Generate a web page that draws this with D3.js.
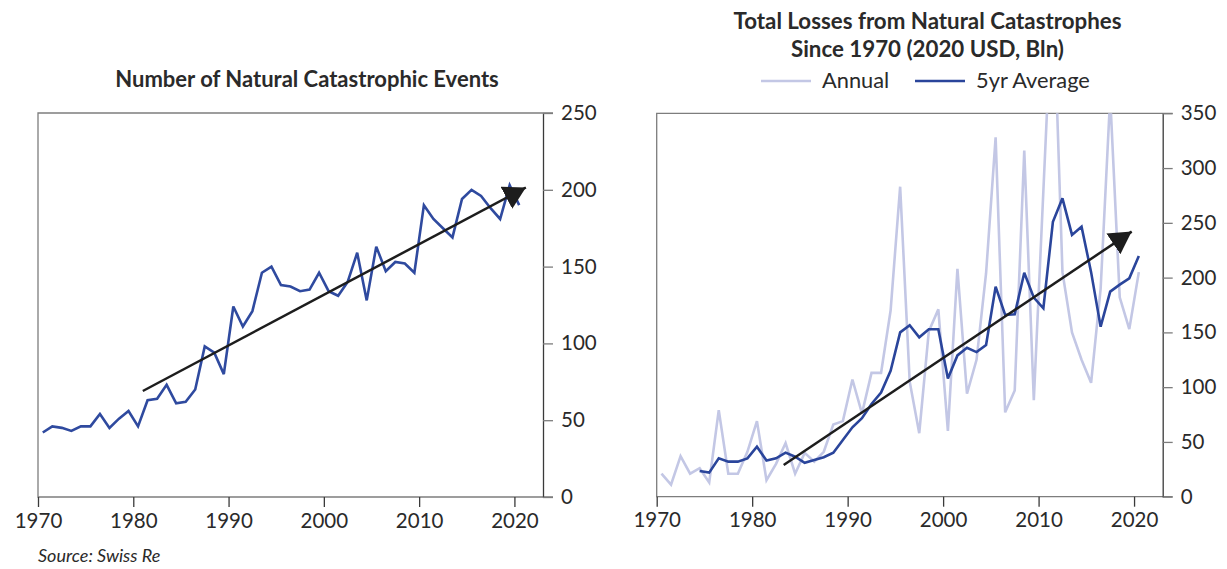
<!DOCTYPE html>
<html>
<head>
<meta charset="utf-8">
<script src="https://cdn.jsdelivr.net/npm/d3@7"></script>
<style>
  body { margin: 0; background: #fff; }
  svg { display: block; }
  text { font-family: Lato, "Open Sans", sans-serif; fill: #2a2a2a; }
</style>
</head>
<body>
<svg id="chart" width="1227" height="569"></svg>
<script>
// Years shown on both panels
const years = [1970, 1971, 1972, 1973, 1974, 1975, 1976, 1977, 1978, 1979,
               1980, 1981, 1982, 1983, 1984, 1985, 1986, 1987, 1988, 1989,
               1990, 1991, 1992, 1993, 1994, 1995, 1996, 1997, 1998, 1999,
               2000, 2001, 2002, 2003, 2004, 2005, 2006, 2007, 2008, 2009,
               2010, 2011, 2012, 2013, 2014, 2015, 2016, 2017, 2018, 2019,
               2020];

// Number of natural catastrophic events per year
const eventCounts = [42, 46, 45, 43, 46, 46, 54, 45, 51, 56,
                     46, 63, 64, 73, 61, 62, 70, 98, 94, 80,
                     124, 111, 121, 146, 150, 138, 137, 134, 135, 146,
                     134, 131, 140, 159, 128, 163, 147, 153, 152, 146,
                     190, 181, 175, 169, 194, 200, 196, 188, 181, 203,
                     190];

// Total losses, 2020 USD bn: annual figures
const annualLosses = [21, 11, 37, 21, 26, 13, 79, 21, 21, 41,
                      69, 15, 30, 49, 21, 40, 32, 41, 66, 69,
                      107, 76, 113, 113, 170, 283, 105, 58, 151, 171,
                      60, 208, 94, 125, 204, 328, 77, 97, 316, 88,
                      279, 470, 205, 150, 125, 104, 190, 365, 182, 153,
                      205];

// Total losses, 2020 USD bn: trailing 5-year average (first four years undefined)
const avgLosses = [null, null, null, null, 23.5, 22, 35, 32, 32, 35,
                   45.6, 33, 35, 40.2, 36.5, 31, 33.5, 36, 40.2, 51.8,
                   63.4, 71.6, 84.6, 95, 115, 150, 156.5, 145.5, 152.8, 152.8,
                   108, 129, 136, 132, 138.5, 191.7, 166, 166.5, 204.5, 181.7,
                   172, 251, 272.4, 239, 246.5, 205, 155.2, 187.2, 193.6, 199.4,
                   219.8];

// Trend arrows: [year, value] at start and tip
const eventTrend = [[1981.0, 69], [2021.2, 201.5]];
const lossTrend = [[1983.3, 29], [2019.75, 242]];

const xTicks = [1970, 1980, 1990, 2000, 2010, 2020];
const eventTicks = [0, 50, 100, 150, 200, 250];
const lossTicks = [0, 50, 100, 150, 200, 250, 300, 350];

const COLORS = {
  events: "#2f4a9f",
  annual: "#c3c7e5",
  average: "#2a459b",
  arrow: "#1d1d1d",
  frame: "#7d7d7d",
  axis: "#3a3a3a",
  label: "#404040"
};

const svg = d3.select("#chart");

// Arrowhead marker shared by both trend lines
svg.append("defs").append("marker")
  .attr("id", "arrowhead")
  .attr("markerUnits", "userSpaceOnUse")
  .attr("markerWidth", 26)
  .attr("markerHeight", 26)
  .attr("viewBox", "0 0 26 26")
  .attr("refX", 22)
  .attr("refY", 12.5)
  .attr("orient", "auto")
  .append("path")
  .attr("d", "M0,0 L22,12.5 L0,25 Z")
  .attr("fill", COLORS.arrow);

function styleTickText(sel) {
  sel.attr("font-size", 20.5).attr("font-weight", 400)
    .attr("font-family", "Lato, sans-serif").attr("fill", COLORS.label);
}

function drawPanel(cfg) {
  const x = d3.scaleLinear().domain([1970, 2023]).range([cfg.left, cfg.right]);
  const y = d3.scaleLinear().domain(cfg.yDomain).range([cfg.bottom, cfg.top]);
  // each annual observation sits mid-year
  const xp = yr => x(yr + 0.5);

  const g = svg.append("g");

  // frame: top, left and bottom edges
  g.append("path")
    .attr("d", `M${cfg.right + 10},${cfg.top} H${cfg.left} V${cfg.bottom} H${cfg.right + 10}`)
    .attr("fill", "none")
    .attr("stroke", COLORS.frame)
    .attr("stroke-width", 1.3);

  // right value axis
  const yAxis = g.append("g")
    .attr("transform", `translate(${cfg.right},0)`)
    .call(d3.axisRight(y).tickValues(cfg.yTicks).tickSize(10).tickPadding(8).tickSizeOuter(0));
  yAxis.select(".domain").attr("stroke", COLORS.axis).attr("stroke-width", 1.3);
  yAxis.selectAll(".tick line").attr("stroke", COLORS.frame).attr("stroke-width", 1.3);
  yAxis.selectAll(".tick text").call(styleTickText);

  // bottom year axis
  const xAxis = g.append("g")
    .attr("transform", `translate(0,${cfg.bottom})`)
    .call(d3.axisBottom(x).tickValues(xTicks).tickFormat(d3.format("d"))
      .tickSize(10).tickPadding(6).tickSizeOuter(0));
  xAxis.select(".domain").remove();
  xAxis.selectAll(".tick line").attr("stroke", COLORS.axis).attr("stroke-width", 1.3);
  xAxis.selectAll(".tick text").call(styleTickText);

  // clip region for series that run past the top of the scale
  const clipId = cfg.id + "-clip";
  svg.select("defs").append("clipPath").attr("id", clipId)
    .append("rect")
    .attr("x", cfg.left).attr("y", cfg.top)
    .attr("width", cfg.right - cfg.left).attr("height", cfg.bottom - cfg.top);

  const plot = g.append("g").attr("clip-path", `url(#${clipId})`);

  cfg.series.forEach(s => {
    const line = d3.line()
      .defined((d, i) => s.values[i] != null)
      .x((d, i) => xp(years[i]))
      .y((d, i) => y(s.values[i]));
    plot.append("path")
      .datum(years)
      .attr("d", line)
      .attr("fill", "none")
      .attr("stroke", s.color)
      .attr("stroke-width", 2.6)
      .attr("stroke-linejoin", "miter")
      .attr("stroke-miterlimit", 3);
  });

  // trend arrow
  g.append("line")
    .attr("x1", x(cfg.trend[0][0])).attr("y1", y(cfg.trend[0][1]))
    .attr("x2", x(cfg.trend[1][0])).attr("y2", y(cfg.trend[1][1]))
    .attr("stroke", COLORS.arrow)
    .attr("stroke-width", 2.5)
    .attr("marker-end", "url(#arrowhead)");

  return { x, y };
}

drawPanel({
  id: "events",
  left: 38, right: 543, top: 113, bottom: 497,
  yDomain: [0, 250], yTicks: eventTicks,
  series: [{ values: eventCounts, color: COLORS.events }],
  trend: eventTrend
});

drawPanel({
  id: "losses",
  left: 656.7, right: 1162.7, top: 113.3, bottom: 496.7,
  yDomain: [0, 350], yTicks: lossTicks,
  series: [
    { values: annualLosses, color: COLORS.annual },
    { values: avgLosses, color: COLORS.average }
  ],
  trend: lossTrend
});

// titles
svg.append("text")
  .attr("x", 307).attr("y", 87)
  .attr("text-anchor", "middle")
  .attr("font-size", 22).attr("font-weight", 700)
  .attr("fill", "#222")
  .text("Number of Natural Catastrophic Events");

const rightTitle = svg.append("text")
  .attr("text-anchor", "middle")
  .attr("font-size", 22.3).attr("font-weight", 700)
  .attr("fill", "#222");
rightTitle.append("tspan").attr("x", 927.5).attr("y", 28.5)
  .text("Total Losses from Natural Catastrophes");
rightTitle.append("tspan").attr("x", 927.5).attr("y", 57)
  .text("Since 1970 (2020 USD, Bln)");

// legend
const legendItems = [
  { label: "Annual", color: COLORS.annual, x: 761 },
  { label: "5yr Average", color: COLORS.average, x: 915 }
];
const legend = svg.append("g");
legendItems.forEach(item => {
  legend.append("line")
    .attr("x1", item.x).attr("x2", item.x + 50)
    .attr("y1", 81).attr("y2", 81)
    .attr("stroke", item.color).attr("stroke-width", 2.6);
  legend.append("text")
    .attr("x", item.x + 61).attr("y", 87.5)
    .attr("font-size", 21.8).attr("font-weight", 400)
    .attr("fill", COLORS.label)
    .text(item.label);
});

// source note
svg.append("text")
  .attr("x", 38).attr("y", 562)
  .attr("font-size", 18).attr("font-style", "italic").attr("font-weight", 400)
  .attr("fill", "#555")
  .text("Source: Swiss Re");
</script>
</body>
</html>
